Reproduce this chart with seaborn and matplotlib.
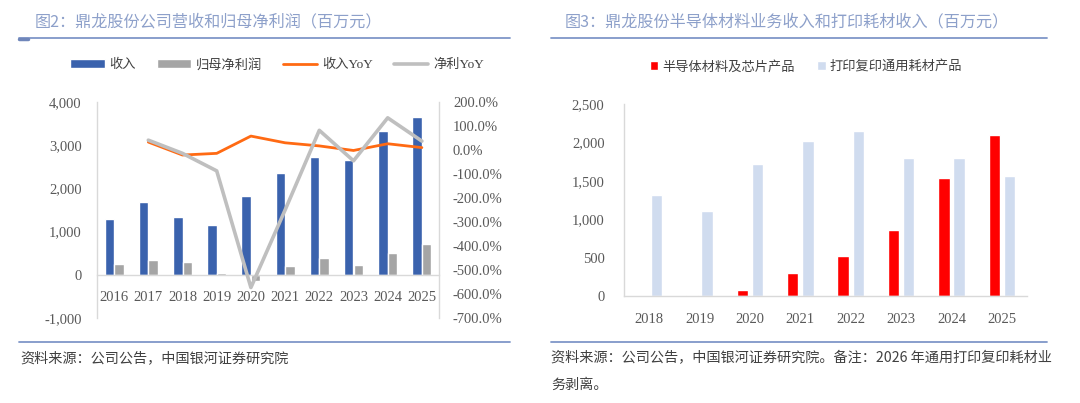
import numpy as np
import pandas as pd
import seaborn as sns
import matplotlib.pyplot as plt
from matplotlib.ticker import FuncFormatter

# left chart: revenue / net profit (million yuan) and YoY (%)
years_l = ['2016', '2017', '2018', '2019', '2020', '2021', '2022', '2023', '2024', '2025']
revenue = [1300, 1690, 1340, 1146, 1815, 2360, 2720, 2665, 3325, 3655]
net_profit = [240, 340, 290, 35, -140, 215, 385, 220, 515, 720]
revenue_yoy = [np.nan, 33, -21, -14, 58, 30, 17, -2, 26, 10]
profit_yoy = [np.nan, 41, -14, -87, -573, -250, 82, -45, 134, 37]

# right chart: semiconductor materials vs printing consumables (million yuan)
years_r = ['2018', '2019', '2020', '2021', '2022', '2023', '2024', '2025']
semi = [4, 12, 78, 304, 522, 861, 1530, 2090]
printing = [1320, 1113, 1717, 2017, 2150, 1797, 1797, 1565]

W, H = 1080, 403
CJK = 'Noto Sans CJK SC'
SERIF = ['Liberation Serif', CJK]
TITLE_C = '#8DA0CA'
RULE_C = '#7F96C8'
AXIS_C = '#D9D9D9'
TICK_C = '#595959'

sns.set_theme(style='white')
plt.rcParams['font.family'] = [CJK, 'DejaVu Sans']

fig = plt.figure(figsize=(W / 100, H / 100), dpi=100)


def frac(x, y):
    return x / W, 1 - y / H


def box(x0, y0, x1, y1):
    return [x0 / W, 1 - y1 / H, (x1 - x0) / W, (y1 - y0) / H]


def rule(x0, x1, y, lw=1.3, color=RULE_C):
    fig.add_artist(plt.Line2D([x0 / W, x1 / W], [1 - y / H, 1 - y / H],
                              transform=fig.transFigure, color=color, lw=lw))


# ---------- left panel ----------
ax1 = fig.add_axes(box(97, 102, 439, 318))
df_l = pd.DataFrame({'year': years_l * 2,
                     'value': revenue + net_profit,
                     'series': ['收入'] * len(years_l) + ['归母净利润'] * len(years_l)})
sns.barplot(data=df_l, x='year', y='value', hue='series', palette=['#3A62AD', '#A5A5A5'],
            saturation=1, width=0.56, gap=0, ax=ax1)
h1, l1 = ax1.get_legend_handles_labels()
ax1.get_legend().remove()
ax1.set_xlim(-0.5, len(years_l) - 0.5)
ax1.set_ylim(-1000, 4000)
ax1.set_yticks(range(-1000, 4001, 1000))
ax1.yaxis.set_major_formatter(FuncFormatter(lambda v, p: '{:,.0f}'.format(v)))
ax1.set_xlabel('')
ax1.set_ylabel('')

ax2 = ax1.twinx()
df_yoy = pd.DataFrame({'pos': np.arange(len(years_l)), 'rev': revenue_yoy, 'np': profit_yoy})
sns.lineplot(data=df_yoy, x='pos', y='rev', color='#FF6A13', lw=2.0, ax=ax2, label='收入YoY')
sns.lineplot(data=df_yoy, x='pos', y='np', color='#BFBFBF', lw=2.6, ax=ax2, label='净利YoY')
h2, l2 = ax2.get_legend_handles_labels()
ax2.get_legend().remove()
ax2.set_ylim(-700, 200)
ax2.set_yticks(range(-700, 201, 100))
ax2.yaxis.set_major_formatter(FuncFormatter(lambda v, p: '{:.1f}%'.format(v)))
ax2.set_xlabel('')
ax2.set_ylabel('')
ax1.set_xlim(-0.5, len(years_l) - 0.5)

for s in ['top', 'right']:
    ax1.spines[s].set_visible(False)
for s in ['top', 'left', 'bottom']:
    ax2.spines[s].set_visible(False)
ax1.spines['bottom'].set_position(('data', 0))
for sp in [ax1.spines['left'], ax1.spines['bottom'], ax2.spines['right']]:
    sp.set_color(AXIS_C)
    sp.set_linewidth(1)
ax1.tick_params(axis='x', length=0, pad=12, labelsize=10.5, labelcolor=TICK_C)
ax1.tick_params(axis='y', length=0, pad=11, labelsize=10.5, labelcolor=TICK_C)
ax2.tick_params(axis='y', length=0, pad=10, labelsize=10.5, labelcolor=TICK_C)
for lab in ax1.get_xticklabels() + ax1.get_yticklabels() + ax2.get_yticklabels():
    lab.set_family(SERIF)
ax1.patch.set_visible(False)

leg1 = fig.legend(h1 + h2, l1 + l2, loc='center', bbox_to_anchor=frac(277, 65), ncol=4,
                  frameon=False, handlelength=2.6, handleheight=0.7, handletextpad=0.35,
                  columnspacing=1.6, prop={'family': SERIF, 'size': 9.5})
for t in leg1.get_texts():
    t.set_color('#404040')

# ---------- right panel ----------
ax3 = fig.add_axes(box(624, 104, 1027, 296))
df_r = pd.DataFrame({'year': years_r * 2,
                     'value': semi + printing,
                     'series': ['半导体材料及芯片产品'] * len(years_r) + ['打印复印通用耗材产品'] * len(years_r)})
sns.barplot(data=df_r, x='year', y='value', hue='series', palette=['#FF0000', '#D0DCEF'],
            saturation=1, width=0.6, gap=0.25, ax=ax3)
h3, l3 = ax3.get_legend_handles_labels()
ax3.get_legend().remove()
ax3.set_xlim(-0.5, len(years_r) - 0.5)
ax3.set_ylim(0, 2500)
ax3.set_yticks(range(0, 2501, 500))
ax3.yaxis.set_major_formatter(FuncFormatter(lambda v, p: '{:,.0f}'.format(v)))
ax3.set_xlabel('')
ax3.set_ylabel('')
for s in ['top', 'right']:
    ax3.spines[s].set_visible(False)
for s in ['left', 'bottom']:
    ax3.spines[s].set_color(AXIS_C)
    ax3.spines[s].set_linewidth(1)
ax3.tick_params(axis='x', length=0, pad=12, labelsize=10.5, labelcolor=TICK_C)
ax3.tick_params(axis='y', length=0, pad=14, labelsize=10.5, labelcolor=TICK_C)
for lab in ax3.get_xticklabels() + ax3.get_yticklabels():
    lab.set_family(SERIF)

leg3 = fig.legend(h3, l3, loc='center', bbox_to_anchor=frac(806, 67), ncol=2,
                  frameon=False, handlelength=0.65, handleheight=0.65, handletextpad=0.3,
                  columnspacing=1.7, prop={'family': SERIF, 'size': 9.5})
for t in leg3.get_texts():
    t.set_color('#404040')

# ---------- titles, rules, sources ----------
fig.text(*frac(35, 22), '图2：鼎龙股份公司营收和归母净利润（百万元）', color=TITLE_C,
         fontsize=11.6, va='center', ha='left')
fig.text(*frac(565, 22), '图3：鼎龙股份半导体材料业务收入和打印耗材收入（百万元）', color=TITLE_C,
         fontsize=11.6, va='center', ha='left')
rule(19, 510, 37.5)
rule(19, 28, 38.5, lw=2.5, color='#6F86BA')
rule(551, 1047, 37.5)
rule(19, 510, 342)
rule(551, 1047, 342)

fig.text(*frac(20, 358), '资料来源：公司公告，中国银河证券研究院', color='#404040',
         fontsize=10.2, va='center', ha='left')
fig.text(*frac(551, 358), '资料来源：公司公告，中国银河证券研究院。备注：2026 年通用打印复印耗材业',
         color='#404040', fontsize=10.2, va='center', ha='left')
fig.text(*frac(551, 385), '务剥离。', color='#404040', fontsize=10.2, va='center', ha='left')

fig.savefig('out.png', dpi=100)
